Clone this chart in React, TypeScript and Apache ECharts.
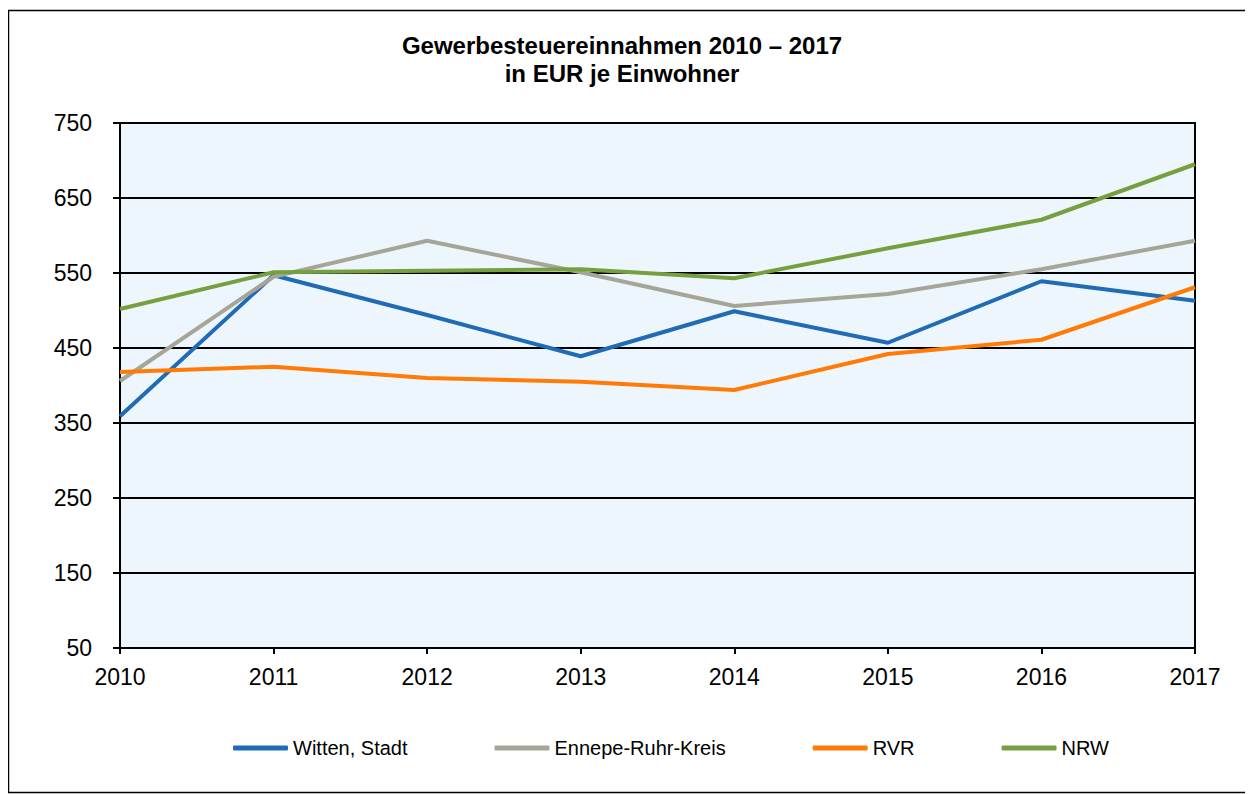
import React, { useEffect, useRef } from "react";
import * as echarts from "echarts";

const years = ["2010", "2011", "2012", "2013", "2014", "2015", "2016", "2017"];
const witten = [359, 547, 494, 439, 499, 457, 539, 513];
const ennepe = [406, 545, 593, 551, 506, 522, 555, 593];
const rvr = [418, 425, 410, 405, 394, 442, 461, 531];
const nrw = [502, 551, 553, 555, 543, 583, 621, 695];
const seriesNames = ["Witten, Stadt", "Ennepe-Ruhr-Kreis", "RVR", "NRW"];
const seriesColors = ["#1F6BB5", "#A5A598", "#FF7B05", "#76A03F"];
const titleLines = ["Gewerbesteuereinnahmen 2010 – 2017", "in EUR je Einwohner"];

const FONT = "'Liberation Sans', Arial, sans-serif";

export default function App() {
  const ref = useRef<HTMLDivElement>(null);
  useEffect(() => {
    if (!ref.current) return;
    const chart = echarts.init(ref.current, null, { renderer: "svg" });
    const data = [witten, ennepe, rvr, nrw];
    chart.setOption({
      animation: false,
      backgroundColor: "#ffffff",
      textStyle: { fontFamily: FONT },
      graphic: [
        {
          type: "rect",
          shape: { x: 0.5, y: 2.5, width: 1241, height: 782 },
          style: { fill: "none", stroke: "#000", lineWidth: 1.5 },
          silent: true,
        },
        {
          type: "text",
          x: 614,
          y: 23,
          silent: true,
          style: {
            text: titleLines.join("\n"),
            align: "center",
            verticalAlign: "top",
            fontFamily: FONT,
            fontSize: 24,
            fontWeight: "bold",
            fill: "#000",
            lineHeight: 28,
          },
        },
      ],
      legend: {
        left: 220,
        top: 725,
        itemWidth: 55,
        itemHeight: 5,
        itemGap: 87,
        icon: "roundRect",
        textStyle: { fontFamily: FONT, fontSize: 20, color: "#000" },
        data: seriesNames,
      },
      grid: {
        left: 112,
        top: 115,
        width: 1075,
        height: 525,
        show: true,
        backgroundColor: "#EEF6FD",
        borderColor: "#000",
        borderWidth: 2,
      },
      xAxis: {
        type: "category",
        data: years,
        boundaryGap: false,
        axisLine: { lineStyle: { color: "#000", width: 2 } },
        axisTick: { show: true, length: 6, inside: false, lineStyle: { color: "#000", width: 2 } },
        axisLabel: { fontFamily: FONT, fontSize: 23, color: "#000", margin: 17 },
        splitLine: { show: false },
      },
      yAxis: {
        type: "value",
        min: 50,
        max: 750,
        interval: 100,
        axisLine: { show: true, lineStyle: { color: "#000", width: 2 } },
        axisTick: { show: true, length: 7, lineStyle: { color: "#000", width: 2 } },
        axisLabel: { fontFamily: FONT, fontSize: 23, color: "#000", margin: 28 },
        splitLine: { show: true, lineStyle: { color: "#000", width: 2 } },
      },
      series: seriesNames.map((name, i) => ({
        name,
        type: "line",
        data: data[i],
        symbol: "none",
        showSymbol: false,
        lineStyle: { color: seriesColors[i], width: 4 },
        itemStyle: { color: seriesColors[i] },
        z: 3 + i,
      })),
    });
    return () => chart.dispose();
  }, []);
  return <div ref={ref} style={{ width: 1245, height: 786 }} />;
}
